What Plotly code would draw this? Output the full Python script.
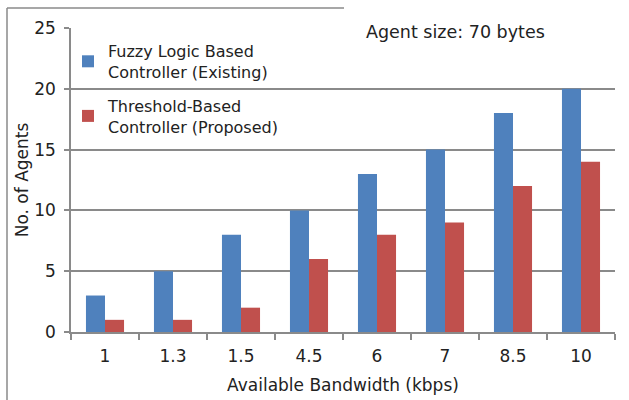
import plotly.graph_objects as go

categories = ["1", "1.3", "1.5", "4.5", "6", "7", "8.5", "10"]
fuzzy = [3, 5, 8, 10, 13, 15, 18, 20]
threshold = [1, 1, 2, 6, 8, 9, 12, 14]

FONT = "DejaVu Sans"
GRID = "#8a8a8a"
TXT = "#222"

fig = go.Figure()
fig.add_trace(go.Bar(x=categories, y=fuzzy, name="Fuzzy Logic Based<br>Controller (Existing)",
                     legendgroup="a",
                     marker=dict(color="#4F81BD", line=dict(width=0))))
fig.add_trace(go.Bar(x=categories, y=threshold, name="Threshold-Based<br>Controller (Proposed)",
                     legendgroup="b",
                     marker=dict(color="#C0504D", line=dict(width=0))))

ml, mr, mt, mb = 71, 14, 28, 68
W, H = 629, 400
pw, ph = W - ml - mr, H - mt - mb

def px(x):
    return (x - ml) / pw

def py(y):
    return (H - mb - y) / ph

fig.update_layout(
    width=W, height=H,
    margin=dict(l=ml, r=mr, t=mt, b=mb, pad=0, autoexpand=False),
    paper_bgcolor="white", plot_bgcolor="white",
    font=dict(family=FONT, size=16, color=TXT),
    barmode="group", bargap=0.44, bargroupgap=0,
    showlegend=True,
    legend=dict(x=px(68), y=py(34), xanchor="left", yanchor="top",
                bgcolor="rgba(0,0,0,0)", font=dict(family=FONT, size=16, color=TXT),
                tracegroupgap=10, itemwidth=30),
    xaxis=dict(type="category", showline=True, linecolor=GRID, linewidth=1.5,
               ticks="outside", tickson="boundaries", ticklen=6, tickcolor=GRID, tickwidth=1.5,
               showgrid=False, tickfont=dict(size=17), ticklabelstandoff=8, automargin=False,
               title=dict(text="Available Bandwidth (kbps)", font=dict(size=17), standoff=14)),
    yaxis=dict(range=[0, 25], dtick=5, showline=True, linecolor=GRID, linewidth=1.5,
               ticks="outside", ticklen=5, tickcolor=GRID, tickwidth=1.5,
               showgrid=True, gridcolor=GRID, gridwidth=1.5, zeroline=False,
               tickfont=dict(size=17), ticklabelstandoff=5, automargin=False,
               title=dict(text="No. of Agents", font=dict(size=17), standoff=1)),
    annotations=[dict(text="Agent size: 70 bytes", x=px(455), y=py(32), xref="paper", yref="paper",
                      xanchor="center", yanchor="middle",
                      showarrow=False, font=dict(family=FONT, size=17.5, color=TXT))],
    shapes=[
        dict(type="line", xref="paper", yref="paper", x0=px(7), y0=py(8), x1=px(344), y1=py(8),
             line=dict(color=GRID, width=1.5)),
        dict(type="line", xref="paper", yref="paper", x0=px(7), y0=py(8), x1=px(7), y1=py(402),
             line=dict(color=GRID, width=1.5)),
    ],
)

fig.write_html("out.html", config={"displayModeBar": False},
               post_script="document.body.style.margin='0';document.body.style.overflow='hidden';")
